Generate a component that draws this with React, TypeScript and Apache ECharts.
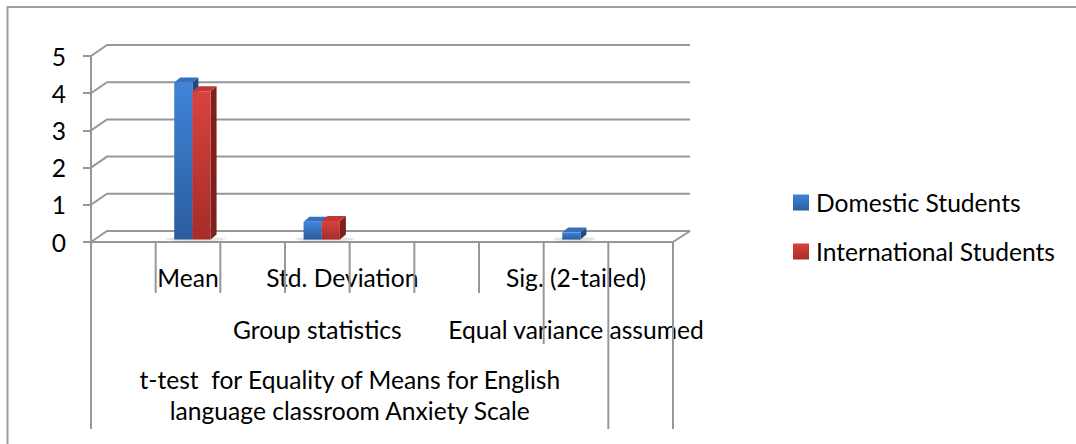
import React, { useEffect, useRef } from "react";
import * as echarts from "echarts";

// ---------- data ----------
const leafLabels = ["", "Mean", "", "Std. Deviation", "", "", "", "Sig. (2-tailed)", ""];
const groupLabels = ["", "", "", "Group statistics", "", "", "", "Equal variance assumed", ""];
const topLabels = [
  "",
  "",
  "",
  "t-test  for Equality of Means for English\nlanguage classroom Anxiety Scale",
  "",
  "",
  "",
  "",
  "",
];
const seriesNames = ["Domestic Students", "International Students"];
const domesticValues: (number | null)[] = [null, 4.22, null, 0.48, null, null, null, 0.19, null];
const internationalValues: (number | null)[] = [null, 3.99, null, 0.5, null, null, null, null, null];
const yTickValues = [0, 1, 2, 3, 4, 5];
// category separators: category index, side (0 = left edge, 1 = right edge), level (1 leaf, 2 group, 3 top)
const separatorCategory = [0, 1, 2, 3, 4, 5, 6, 7, 8, 8];
const separatorSide = [0, 0, 0, 0, 0, 0, 0, 0, 0, 1];
const separatorLevel = [3, 1, 1, 1, 1, 1, 1, 2, 3, 3];

// ---------- styles ----------
const LINE = "#979797";
const FONT = "Lato";
const FS = 24.6;
const WALL_DX = 16;
const WALL_DY = -11;
const BAR_DX = 6;
const BAR_DY = -5;
const BAR_SHIFT_X = 4.4;
const BAR_SHIFT_Y = -2.4;
const BAR_FRAC = 0.281;
const SEP_LEN: Record<number, number> = { 1: 51, 2: 102, 3: 187 };
const labelPadLeft: Record<string, number> = {
  "Std. Deviation": 50,
  "t-test  for Equality of Means for English\nlanguage classroom Anxiety Scale": 65,
};

const palettes = [
  { front: ["#4084d8", "#2a5c9e"], side: "#1f4a80", top: "#3570bf" },
  { front: ["#d8433e", "#a62c29"], side: "#7e1f1d", top: "#c23834" },
];

const catData = (labels: string[]) =>
  labels.map((l) =>
    labelPadLeft[l] ? { value: l, textStyle: { padding: [0, 0, 0, labelPadLeft[l]] } } : l
  );

function barRenderer(seriesIdx: number) {
  const pal = palettes[seriesIdx];
  return (params: any, api: any) => {
    const c = api.value(0);
    const v = api.value(1);
    const base = api.coord([c, 0]);
    const tip = api.coord([c, v]);
    const band = api.size([1, 0])[0];
    const w = band * BAR_FRAC;
    const x0 = base[0] + BAR_SHIFT_X + (seriesIdx === 0 ? -w : 0);
    const yb = base[1] + BAR_SHIFT_Y;
    const yt = tip[1] + BAR_SHIFT_Y;
    return {
      type: "group",
      children: [
        {
          type: "polygon",
          shape: {
            points: [
              [x0 + w, yb],
              [x0 + w + BAR_DX, yb + BAR_DY],
              [x0 + w + BAR_DX, yt + BAR_DY],
              [x0 + w, yt],
            ],
          },
          style: { fill: pal.side },
        },
        {
          type: "polygon",
          shape: {
            points: [
              [x0, yt],
              [x0 + BAR_DX, yt + BAR_DY],
              [x0 + w + BAR_DX, yt + BAR_DY],
              [x0 + w, yt],
            ],
          },
          style: { fill: pal.top },
        },
        {
          type: "rect",
          shape: { x: x0, y: yt, width: w, height: Math.max(0, yb - yt) },
          style: {
            fill: new echarts.graphic.LinearGradient(0, 0, 0, 1, [
              { offset: 0, color: pal.front[0] },
              { offset: 1, color: pal.front[1] },
            ]),
          },
        },
      ],
    };
  };
}

export default function App() {
  const ref = useRef<HTMLDivElement>(null);

  useEffect(() => {
    if (!ref.current) return;
    const chart = echarts.init(ref.current, undefined, { renderer: "svg" });

    const seriesValues = [domesticValues, internationalValues];

    const wallData = yTickValues.map((v) => [0, v]);
    const sepData = separatorCategory.map((c, i) => [c, separatorLevel[i], separatorSide[i]]);
    const shadowData = leafLabels
      .map((_, i) => [i, domesticValues[i] ?? NaN, internationalValues[i] ?? NaN])
      .filter((d) => !isNaN(d[1] as number) || !isNaN(d[2] as number));

    const option: any = {
      animation: false,
      textStyle: { fontFamily: FONT, color: "#000" },
      graphic: [
        {
          type: "rect",
          shape: { x: 7.5, y: 7, width: 1200, height: 600 },
          style: { fill: "none", stroke: "#a0a0a0", lineWidth: 2 },
          silent: true,
        },
      ],
      legend: {
        orient: "vertical",
        left: 793,
        top: 190,
        padding: 0,
        itemWidth: 16,
        itemHeight: 16,
        itemGap: 24,
        icon: "rect",
        data: seriesNames,
        textStyle: { fontSize: FS, color: "#000", fontFamily: FONT, padding: [0, 0, 0, 2] },
      },
      grid: { left: 91, top: 56, width: 582, height: 186 },
      xAxis: [
        {
          type: "category",
          gridIndex: 0,
          position: "bottom",
          data: catData(leafLabels),
          boundaryGap: true,
          axisLine: { show: true, lineStyle: { color: LINE, width: 2 } },
          axisTick: { show: false },
          splitLine: { show: false },
          axisLabel: { interval: 0, margin: 23, fontSize: FS, color: "#000", fontFamily: FONT },
        },
        {
          type: "category",
          gridIndex: 0,
          position: "bottom",
          offset: 0,
          data: catData(groupLabels),
          axisLine: { show: false },
          axisTick: { show: false },
          axisLabel: { interval: 0, margin: 75, fontSize: FS, color: "#000", fontFamily: FONT },
        },
        {
          type: "category",
          gridIndex: 0,
          position: "bottom",
          offset: 0,
          data: catData(topLabels),
          axisLine: { show: false },
          axisTick: { show: false },
          axisLabel: {
            interval: 0,
            margin: 122,
            fontSize: FS,
            lineHeight: 31,
            color: "#000",
            fontFamily: FONT,
            align: "center",
          },
        },
      ],
      yAxis: {
        type: "value",
        min: 0,
        max: 5,
        interval: 1,
        axisLine: { show: true, lineStyle: { color: LINE, width: 2 } },
        axisTick: { show: true, inside: false, length: 8, lineStyle: { color: LINE, width: 2 } },
        splitLine: { show: false },
        axisLabel: { margin: 25, fontSize: FS, color: "#000", fontFamily: FONT },
      },
      series: [
        {
          type: "custom",
          name: "wall",
          silent: true,
          clip: false,
          z: 1,
          data: wallData,
          renderItem: (params: any, api: any) => {
            const v = api.value(1);
            const y = api.coord([0, v])[1];
            const cs = params.coordSys;
            const xL = cs.x;
            const xR = cs.x + cs.width;
            const children: any[] = [
              {
                type: "polyline",
                shape: {
                  points: [
                    [xL, y],
                    [xL + WALL_DX, y + WALL_DY],
                    [xR + WALL_DX + 1, y + WALL_DY],
                  ],
                },
                style: { stroke: LINE, lineWidth: 2, fill: null },
              },
            ];
            if (v === 0) {
              children.push({
                type: "line",
                shape: { x1: xR, y1: y, x2: xR + WALL_DX + 1, y2: y + WALL_DY },
                style: { stroke: LINE, lineWidth: 2 },
              });
            }
            return { type: "group", children };
          },
        },
        {
          type: "custom",
          name: "separators",
          silent: true,
          clip: false,
          z: 1,
          data: sepData,
          renderItem: (params: any, api: any) => {
            const c = api.value(0);
            const level = api.value(1);
            const side = api.value(2);
            const p = api.coord([c, 0]);
            const band = api.size([1, 0])[0];
            const x = p[0] + (side ? band / 2 : -band / 2);
            return {
              type: "line",
              shape: { x1: x, y1: p[1], x2: x, y2: p[1] + SEP_LEN[level] },
              style: { stroke: LINE, lineWidth: 2 },
            };
          },
        },
        {
          type: "custom",
          name: "shadow",
          silent: true,
          clip: false,
          z: 2,
          data: shadowData,
          renderItem: (params: any, api: any) => {
            const c = api.value(0);
            const hasD = !isNaN(api.value(1));
            const hasI = !isNaN(api.value(2));
            const p = api.coord([c, 0]);
            const band = api.size([1, 0])[0];
            const w = band * BAR_FRAC;
            const left = p[0] + BAR_SHIFT_X - (hasD ? w : 0);
            const right = p[0] + BAR_SHIFT_X + (hasI ? w : 0) + BAR_DX;
            return {
              type: "ellipse",
              shape: {
                cx: (left + right) / 2,
                cy: p[1] + BAR_SHIFT_Y - 0.5,
                rx: (right - left) / 2 + 9,
                ry: 2.2,
              },
              style: {
                fill: "rgba(110,110,110,0.18)",
                shadowBlur: 4,
                shadowColor: "rgba(0,0,0,0.2)",
              },
            };
          },
        },
        ...seriesNames.map((name, si) => ({
          type: "custom",
          name,
          clip: false,
          z: 3,
          itemStyle: {
            color: new echarts.graphic.LinearGradient(0, 0, 0, 1, [
              { offset: 0, color: palettes[si].front[0] },
              { offset: 1, color: palettes[si].front[1] },
            ]),
          },
          data: seriesValues[si]
            .map((v, i) => (v == null ? null : [i, v]))
            .filter((d) => d !== null),
          renderItem: barRenderer(si),
        })),
      ],
    };

    chart.setOption(option);
    return () => chart.dispose();
  }, []);

  return (
    <div
      ref={ref}
      style={{ position: "fixed", left: 0, top: 0, width: 1076, height: 444, background: "#fff" }}
    />
  );
}
